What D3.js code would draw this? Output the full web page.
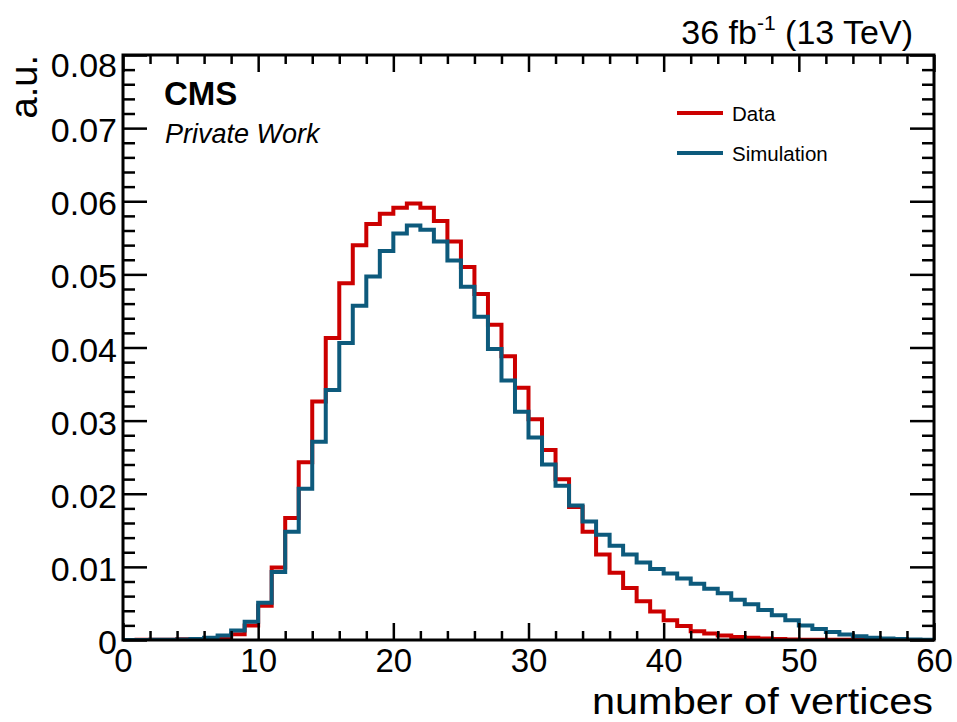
<!DOCTYPE html>
<html>
<head>
<meta charset="utf-8">
<title>number of vertices</title>
<script src="https://d3js.org/d3.v7.min.js"></script>
<style>
  body { margin: 0; background: #fff; }
  text { font-family: "Liberation Sans", Arial, sans-serif; }
</style>
</head>
<body>
<div id="chart"></div>
<script>
// bins of width 1 from 0 to 60
const binEdges = d3.range(0, 61)
const xTicks = [0, 10, 20, 30, 40, 50, 60]
const yTicks = [0, 0.01, 0.02, 0.03, 0.04, 0.05, 0.06, 0.07, 0.08]

// normalised number of vertices, data
const dataVals = [
  0, 0.00002, 0.00003, 0.00005, 0.0001, 0.00015, 0.0002, 0.0003, 0.0008, 0.0020,
  0.0047, 0.0099, 0.0167, 0.0243, 0.0326, 0.0413, 0.0488, 0.0540, 0.0569, 0.0583,
  0.0591, 0.0597, 0.0591, 0.0573, 0.0545, 0.0510, 0.0473, 0.0431, 0.0388, 0.0345,
  0.0302, 0.0260, 0.0220, 0.0182, 0.0148, 0.0117, 0.0092, 0.0071, 0.0053, 0.0039,
  0.0027, 0.0019, 0.0012, 0.0009, 0.0006, 0.0004, 0.0003, 0.0002, 0.00012, 0.00008,
  0.00005, 0.00003, 0.00003, 0.00002, 0.00002, 0.00001, 0.00001, 0.00001, 0, 0
]

// normalised number of vertices, simulation
const simVals = [
  0, 0.00001, 0.00002, 0.00004, 0.00008, 0.00015, 0.0003, 0.0006, 0.0013, 0.0025,
  0.0051, 0.0093, 0.0148, 0.0207, 0.0271, 0.0342, 0.0406, 0.0457, 0.0497, 0.0532,
  0.0556, 0.0567, 0.0561, 0.0545, 0.0519, 0.0483, 0.0442, 0.0398, 0.0355, 0.0312,
  0.0277, 0.0240, 0.0211, 0.0184, 0.0162, 0.0144, 0.0129, 0.0117, 0.0106, 0.0097,
  0.0091, 0.0084, 0.0077, 0.0070, 0.0064, 0.0055, 0.0049, 0.0041, 0.0034, 0.0027,
  0.0020, 0.0015, 0.0011, 0.00075, 0.0005, 0.0003, 0.0002, 0.00012, 0.00008, 0.00005
]

const series = [
  {name: "Data", values: dataVals, color: "#cc0000"},
  {name: "Simulation", values: simVals, color: "#0d5a7c"}
]

let margin = {top: 55, right: 23, bottom: 82, left: 123}
let w = 957 - margin.left - margin.right
let h = 722 - margin.top - margin.bottom

let root = d3.select("#chart")
  .append("svg")
    .attr("width", 957)
    .attr("height", 722)

let svg = root.append("g")
    .attr("transform", "translate(" + margin.left + "," + margin.top + ")")

let xScale = d3.scaleLinear().domain([0, 60]).range([0, w])
let yScale = d3.scaleLinear().domain([0, 0.08]).range([h, 0])

svg.append("clipPath").attr("id", "clip")
  .append("rect").attr("x", 0).attr("y", 0).attr("width", w).attr("height", h)

// step outlines
let line = d3.line()
  .x(d => xScale(d[0]))
  .y(d => yScale(d[1]))
  .curve(d3.curveStepAfter)

series.forEach(s => {
  let pts = binEdges.map((e, i) => [e, s.values[Math.min(i, s.values.length - 1)]])
  svg.append("path")
    .datum(pts)
    .attr("clip-path", "url(#clip)")
    .attr("fill", "none")
    .attr("stroke", s.color)
    .attr("stroke-width", 4)
    .attr("d", line)
})

// axes (ticks pointing inward, like ROOT)
let xMinor = d3.range(0, 61, 2).filter(v => v % 10 !== 0)
let yMinor = d3.range(0, 0.0801, 0.002).filter(v => Math.abs(v * 100 - Math.round(v * 100)) > 1e-6)

function fmtY(d) { return d === 0 ? "0" : d3.format(".2f")(d) }

let xAxis = svg.append("g")
  .attr("transform", "translate(0," + h + ")")
  .call(d3.axisBottom(xScale).tickValues(xTicks).tickSize(-17).tickPadding(9).tickFormat(d3.format("d")))
let xAxisMinor = svg.append("g")
  .attr("transform", "translate(0," + h + ")")
  .call(d3.axisBottom(xScale).tickValues(xMinor).tickSize(-9).tickFormat(""))
let xTop = svg.append("g")
  .call(d3.axisTop(xScale).tickValues(xTicks).tickSize(-17).tickFormat(""))
let xTopMinor = svg.append("g")
  .call(d3.axisTop(xScale).tickValues(xMinor).tickSize(-9).tickFormat(""))

let yAxis = svg.append("g")
  .call(d3.axisLeft(yScale).tickValues(yTicks).tickSize(-24).tickPadding(6).tickFormat(fmtY))
let yAxisMinor = svg.append("g")
  .call(d3.axisLeft(yScale).tickValues(yMinor).tickSize(-12).tickFormat(""))
let yRight = svg.append("g")
  .attr("transform", "translate(" + w + ",0)")
  .call(d3.axisRight(yScale).tickValues(yTicks).tickSize(-24).tickFormat(""))
let yRightMinor = svg.append("g")
  .attr("transform", "translate(" + w + ",0)")
  .call(d3.axisRight(yScale).tickValues(yMinor).tickSize(-12).tickFormat(""))

svg.selectAll(".domain").remove()
svg.selectAll(".tick line").attr("stroke", "#000").attr("stroke-width", 2.5)
svg.selectAll(".tick text")
  .attr("fill", "#000")
  .attr("font-family", "Liberation Sans, Arial, sans-serif")
  .attr("font-size", "33px")
yAxis.selectAll(".tick text")
  .attr("font-size", "34px")
  .attr("dy", d => d === 0.08 ? "0.62em" : "0.4em")

// frame
svg.append("rect")
  .attr("x", 0).attr("y", 0)
  .attr("width", w).attr("height", h)
  .attr("fill", "none")
  .attr("stroke", "#000")
  .attr("stroke-width", 3)

// axis titles
root.append("text")
  .attr("x", 933).attr("y", 714)
  .attr("text-anchor", "end")
  .attr("font-size", "37px")
  .attr("textLength", 341)
  .attr("lengthAdjust", "spacingAndGlyphs")
  .text("number of vertices")

root.append("text")
  .attr("transform", "translate(37,55) rotate(-90)")
  .attr("text-anchor", "end")
  .attr("font-size", "38px")
  .text("a.u.")

// lumi label
let lumi = root.append("text")
  .attr("x", 913).attr("y", 44)
  .attr("text-anchor", "end")
  .attr("font-size", "34px")
lumi.append("tspan").text("36 fb")
lumi.append("tspan").attr("font-size", "21px").attr("dy", -14).text("-1")
lumi.append("tspan").attr("dy", 14).text(" (13 TeV)")

// CMS label
root.append("text")
  .attr("x", 164).attr("y", 105)
  .attr("font-size", "33px")
  .attr("font-weight", "bold")
  .text("CMS")
root.append("text")
  .attr("x", 165).attr("y", 143)
  .attr("font-size", "27px")
  .attr("font-style", "italic")
  .text("Private Work")

// legend
let legend = root.append("g")
series.forEach((s, i) => {
  let yy = 113 + i * 40
  legend.append("line")
    .attr("x1", 677).attr("x2", 723)
    .attr("y1", yy).attr("y2", yy)
    .attr("stroke", s.color)
    .attr("stroke-width", 4)
  legend.append("text")
    .attr("x", 732).attr("y", yy + 8)
    .attr("font-size", "20.5px")
    .text(s.name)
})
</script>
</body>
</html>
